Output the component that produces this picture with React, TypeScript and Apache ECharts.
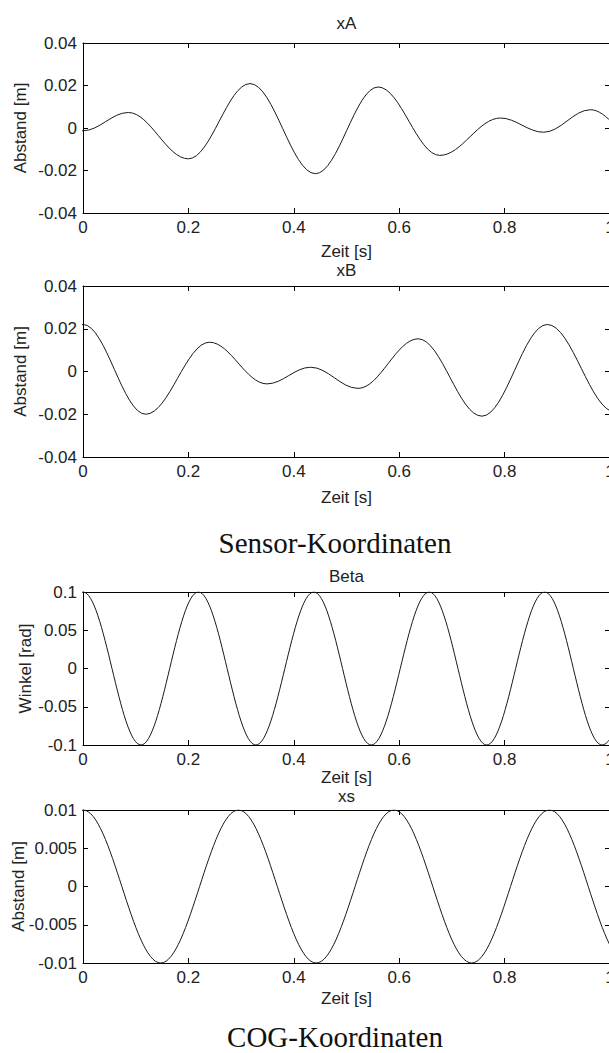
import React, { useEffect, useRef } from "react";
import * as echarts from "echarts";

// ---- tick values ----
const xTicks = [0, 0.2, 0.4, 0.6, 0.8, 1];
const yTicksXA = [-0.04, -0.02, 0, 0.02, 0.04];
const yTicksXB = [-0.04, -0.02, 0, 0.02, 0.04];
const yTicksBeta = [-0.1, -0.05, 0, 0.05, 0.1];
const yTicksXs = [-0.01, -0.005, 0, 0.005, 0.01];

// ---- series (turning points; points outside 0..1 are clipped) ----
const timeXA = [-0.09, 0, 0.086, 0.2, 0.317, 0.441, 0.56, 0.677, 0.792, 0.874, 0.963, 1.052, 1.14];
const valXA = [0.006, -0.0013, 0.0073, -0.0145, 0.0209, -0.0215, 0.0193, -0.0129, 0.0047, -0.002, 0.0086, -0.005, 0.01];

const timeXB = [-0.12, 0, 0.119, 0.24, 0.349, 0.432, 0.522, 0.636, 0.757, 0.881, 1.01, 1.13];
const valXB = [-0.018, 0.022, -0.02, 0.0137, -0.0058, 0.002, -0.0079, 0.0153, -0.0209, 0.022, -0.019, 0.02];

const timeBeta = [-0.11, 0, 0.11, 0.219, 0.328, 0.438, 0.547, 0.657, 0.766, 0.876, 0.985, 1.094];
const valBeta = [-0.1, 0.1, -0.1, 0.1, -0.1, 0.1, -0.1, 0.1, -0.1, 0.1, -0.1, 0.1];

const timeXs = [-0.1475, 0, 0.1475, 0.295, 0.4425, 0.59, 0.7375, 0.885, 1.0325, 1.18];
const valXs = [-0.01, 0.01, -0.01, 0.01, -0.01, 0.01, -0.01, 0.01, -0.01, 0.01];

const titles = ["xA", "xB", "Beta", "xs"];
const yNames = ["Abstand [m]", "Abstand [m]", "Winkel [rad]", "Abstand [m]"];
const xName = "Zeit [s]";
const groupTitles = ["Sensor-Koordinaten", "COG-Koordinaten"];

const seriesTimes = [timeXA, timeXB, timeBeta, timeXs];
const seriesVals = [valXA, valXB, valBeta, valXs];
const yTickSets = [yTicksXA, yTicksXB, yTicksBeta, yTicksXs];

// ---- layout ----
const layout = [
  { top: 43, height: 170, titleY: 23, yNameX: 20, xNameY: 251 },
  { top: 286, height: 171, titleY: 270, yNameX: 20, xNameY: 497 },
  { top: 592, height: 153, titleY: 576, yNameX: 25, xNameY: 777 },
  { top: 810, height: 153, titleY: 796, yNameX: 18, xNameY: 998 },
];
const groupTitlePos = [543, 1037];

const SANS = '"Liberation Sans", Arial, sans-serif';
const SERIF = '"Liberation Serif", "Times New Roman", serif';
const TXT = "#222";
const FRAME = "#000";

export default function App() {
  const ref = useRef<HTMLDivElement>(null);

  useEffect(() => {
    if (!ref.current) return;
    const chart = echarts.init(ref.current, undefined, { renderer: "svg" });

    const grid: any[] = [];
    const xAxis: any[] = [];
    const yAxis: any[] = [];
    const series: any[] = [];
    const graphic: any[] = [];

    const tickStyle = { inside: true, length: 5, lineStyle: { color: FRAME, width: 1 } };
    const lineStyle = { onZero: false, lineStyle: { color: FRAME, width: 1 } };
    const labelStyle = { fontSize: 17, fontFamily: SANS, color: TXT };

    layout.forEach((L, i) => {
      const yt = yTickSets[i];
      grid.push({
        left: 83,
        right: -1,
        top: L.top,
        height: L.height,
        containLabel: false,
        outerBoundsMode: "none",
      });
      const xBase = {
        gridIndex: i,
        type: "value",
        min: xTicks[0],
        max: xTicks[xTicks.length - 1],
        interval: xTicks[1] - xTicks[0],
        axisLine: lineStyle,
        axisTick: tickStyle,
        splitLine: { show: false },
      };
      xAxis.push({ ...xBase, position: "bottom", axisLabel: { ...labelStyle, margin: 6 } });
      xAxis.push({ ...xBase, position: "top", axisLabel: { show: false } });
      const yBase = {
        gridIndex: i,
        type: "value",
        min: yt[0],
        max: yt[yt.length - 1],
        interval: yt[1] - yt[0],
        axisLine: lineStyle,
        axisTick: tickStyle,
        splitLine: { show: false },
      };
      yAxis.push({ ...yBase, position: "left", axisLabel: { ...labelStyle, margin: 6 } });
      yAxis.push({ ...yBase, position: "right", axisLabel: { show: false } });

      const ts = seriesTimes[i];
      const vs = seriesVals[i];
      series.push({
        type: "line",
        xAxisIndex: 2 * i,
        yAxisIndex: 2 * i,
        data: ts.map((t, k) => [t, vs[k]]),
        showSymbol: false,
        symbol: "none",
        smooth: 0.363,
        smoothMonotone: "x",
        clip: true,
        silent: true,
        lineStyle: { color: "#1a1a1a", width: 1 },
      });

      const cx = 83 + 527 / 2;
      graphic.push({
        type: "text",
        x: cx,
        y: L.titleY,
        style: { text: titles[i], font: `17px ${SANS}`, fill: TXT, textAlign: "center", textVerticalAlign: "middle" },
      });
      graphic.push({
        type: "text",
        x: cx,
        y: L.xNameY,
        style: { text: xName, font: `17px ${SANS}`, fill: TXT, textAlign: "center", textVerticalAlign: "middle" },
      });
      graphic.push({
        type: "text",
        x: L.yNameX,
        y: L.top + L.height / 2,
        rotation: Math.PI / 2,
        style: { text: yNames[i], font: `17px ${SANS}`, fill: TXT, textAlign: "center", textVerticalAlign: "middle" },
      });
    });

    groupTitles.forEach((g, j) => {
      graphic.push({
        type: "text",
        x: 335,
        y: groupTitlePos[j],
        style: { text: g, font: `29px ${SERIF}`, fill: "#111", textAlign: "center", textVerticalAlign: "middle" },
      });
    });

    chart.setOption({
      animation: false,
      backgroundColor: "#fff",
      grid,
      xAxis,
      yAxis,
      series,
      graphic,
    });

    return () => chart.dispose();
  }, []);

  return (
    <div
      ref={ref}
      style={{ position: "absolute", left: 0, top: 0, width: 609, height: 1053, overflow: "hidden" }}
    />
  );
}
